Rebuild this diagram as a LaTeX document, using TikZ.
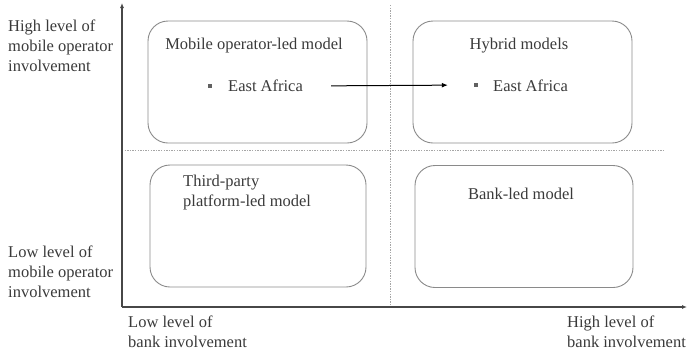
\documentclass[tikz,border=0pt]{standalone}
\usepackage{fontspec}
\setmainfont{Liberation Serif}
\usepackage{tikz}
\usepackage{xcolor}
\usetikzlibrary{arrows.meta}

\definecolor{txtgray}{HTML}{3A3A3A}
\definecolor{boxgray}{HTML}{8A8A8A}
\definecolor{axisgray}{HTML}{474747}

\begin{document}
\begin{tikzpicture}[x=1pt,y=-1pt,
        every node/.style={font=\fontsize{16.5}{20}\selectfont,text=txtgray,inner sep=0pt},
        quadbox/.style={draw=boxgray,line width=0.9pt,rounded corners=20pt,minimum height=122pt},
        bulletmark/.style={fill=txtgray!80,minimum size=4pt},
        divline/.style={draw=gray!70,line width=0.9pt,dash pattern=on 1.3pt off 1.3pt}]
        \useasboundingbox (0,0) rectangle (687,354);
        % quadrants
        \node[quadbox,minimum width=219pt] (mno) at (257.5,82) {};
        \node[quadbox,minimum width=219pt] (hyb) at (522.5,82) {};
        \node[quadbox,minimum width=216pt] (tpp) at (258,226) {};
        \node[quadbox,minimum width=218pt] (bank) at (524,226.5) {};
        \draw[divline] (122,150) -- (663,150);
        \draw[divline] (390,5) -- (390,307);
        % axes
        \coordinate (origin) at (122,307);
        \coordinate (ytop) at (122,3);
        \coordinate (xend) at (687,307);
        \draw[axisgray,line width=1.4pt,-{Latex[length=5pt,width=4pt]}] (origin) -- (ytop);
        \draw[axisgray,line width=1.4pt,-{Latex[length=5pt,width=4pt]}] (origin) -- (xend);
        % titles
        \node (mnotitle) at (254,46) {Mobile operator-led model};
        \node (hybtitle) at (519,46) {Hybrid models};
        \node[anchor=west,align=left] (tpptitle) at (183,193) {Third-party\\platform-led model};
        \node (banktitle) at (521,194) {Bank-led model};
        % examples
        \node[bulletmark] (dot1) at (210,86) {};
        \node[anchor=west] (ea1) at (228,86) {East Africa};
        \node[bulletmark] (dot2) at (476,85) {};
        \node[anchor=west] (ea2) at (493,86) {East Africa};
        \draw[black,line width=1pt,-{Latex[length=6pt,width=5pt]},shorten <=28pt,shorten >=26pt] (ea1.east) -- (dot2.west);
        % axis labels
        \node[anchor=west,align=left] (hiop) at (8,46) {High level of\\mobile operator\\involvement};
        \node[anchor=west,align=left] (loop) at (8,272) {Low level of\\mobile operator\\involvement};
        \node[anchor=west,align=left] (lobank) at (128,332) {Low level of\\bank involvement};
        \node[anchor=west,align=left] (hibank) at (567,332) {High level of\\bank involvement};
    \end{tikzpicture}
\end{document}
